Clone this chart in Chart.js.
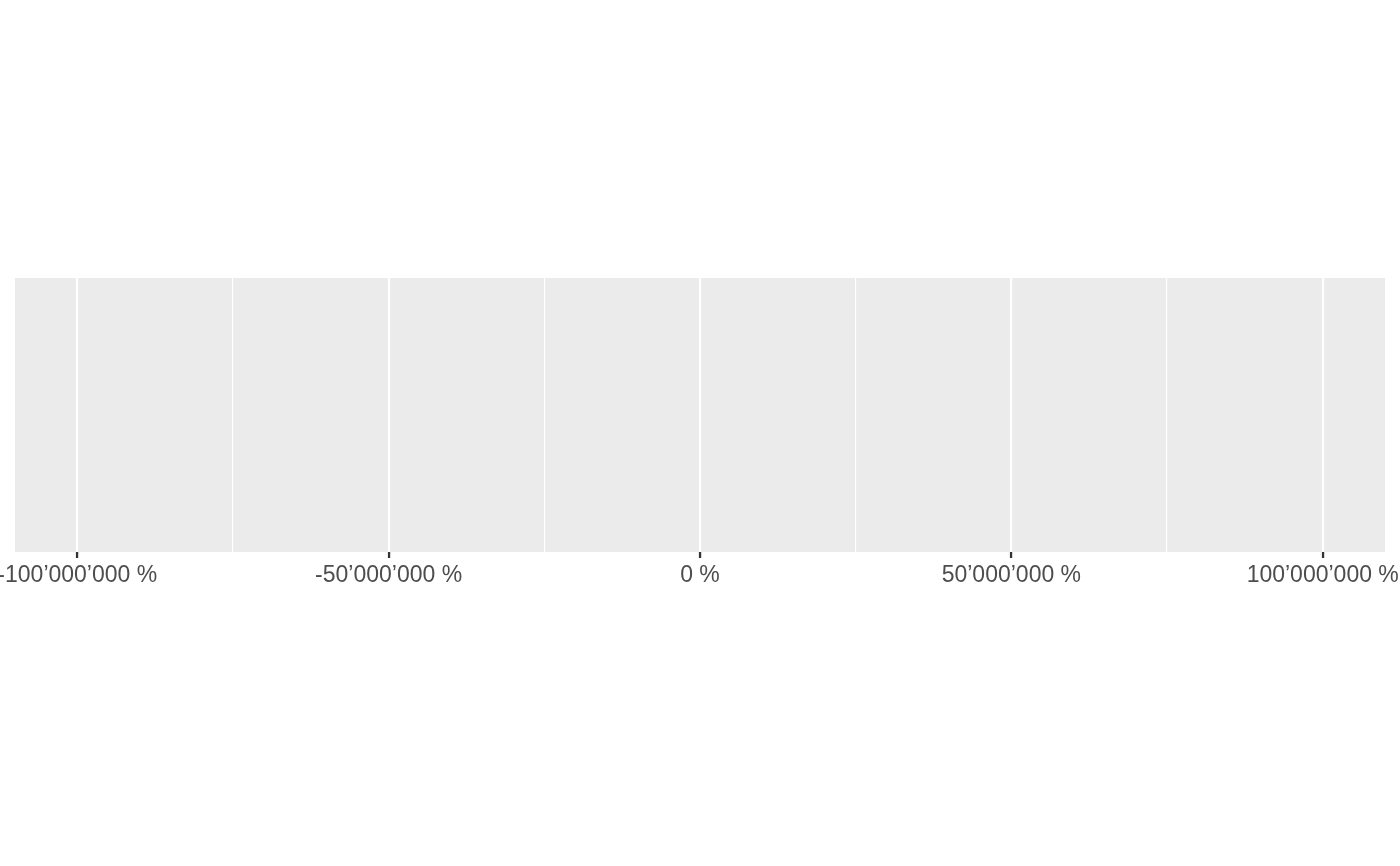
<!DOCTYPE html>
<html>
<head>
<meta charset="utf-8">
<script src="https://cdn.jsdelivr.net/npm/chart.js@4.4.1/dist/chart.umd.min.js"></script>
<style>
  html, body { margin: 0; padding: 0; background: #ffffff; }
  #wrap { width: 1400px; height: 866px; }
</style>
</head>
<body>
<div id="wrap"><canvas id="c" width="1400" height="866"></canvas></div>
<script>
// ---- data (empty panel: no observations) ----
const categories = [];
const seriesValues = [];
const majorTicks = [-100000000, -50000000, 0, 50000000, 100000000];
const minorTicks = [-75000000, -25000000, 25000000, 75000000];
const xLimits = [-110000000, 110000000];

function fmt(v) {
  const s = Math.abs(Math.round(v)).toString().replace(/\B(?=(\d{3})+(?!\d))/g, '\u2019');
  return (v < 0 ? '-' : '') + s + ' %';
}

const panelBg = {
  id: 'panelBg',
  beforeDraw(chart) {
    const a = chart.chartArea, ctx = chart.ctx;
    ctx.save();
    ctx.fillStyle = '#EBEBEB';
    ctx.fillRect(a.left, a.top, a.right - a.left, a.bottom - a.top);
    ctx.restore();
  }
};

const allTicks = majorTicks.concat(minorTicks).sort((a, b) => a - b);
const isMajor = v => majorTicks.includes(v);

new Chart(document.getElementById('c'), {
  type: 'scatter',
  data: {
    labels: categories,
    datasets: [{ data: seriesValues, showLine: false }]
  },
  plugins: [panelBg],
  options: {
    responsive: false,
    animation: false,
    devicePixelRatio: 1,
    layout: { padding: { top: 278, left: 15, right: 15, bottom: 0 } },
    plugins: { legend: { display: false }, tooltip: { enabled: false } },
    scales: {
      x: {
        type: 'linear',
        min: xLimits[0],
        max: xLimits[1],
        border: { display: false },
        afterBuildTicks(scale) {
          scale.ticks = allTicks.map(v => ({ value: v }));
        },
        afterFit(scale) {
          scale.height = 866 - 552;
          scale.paddingLeft = 0;
          scale.paddingRight = 0;
        },
        grid: {
          drawOnChartArea: true,
          drawTicks: true,
          tickLength: 6,
          color: '#FFFFFF',
          lineWidth: ctx => (ctx.tick && isMajor(ctx.tick.value)) ? 2.1 : 1.1,
          tickColor: ctx => (ctx.tick && isMajor(ctx.tick.value)) ? '#333333' : 'rgba(0,0,0,0)',
          tickWidth: 2.3
        },
        ticks: {
          autoSkip: false,
          maxRotation: 0,
          padding: 4,
          color: '#4D4D4D',
          font: { family: 'Liberation Sans, Arial, sans-serif', size: 23 },
          callback: function (v) { return isMajor(v) ? fmt(v) : ''; }
        }
      },
      y: {
        display: false,
        min: 0,
        max: 1
      }
    }
  }
});
</script>
</body>
</html>
